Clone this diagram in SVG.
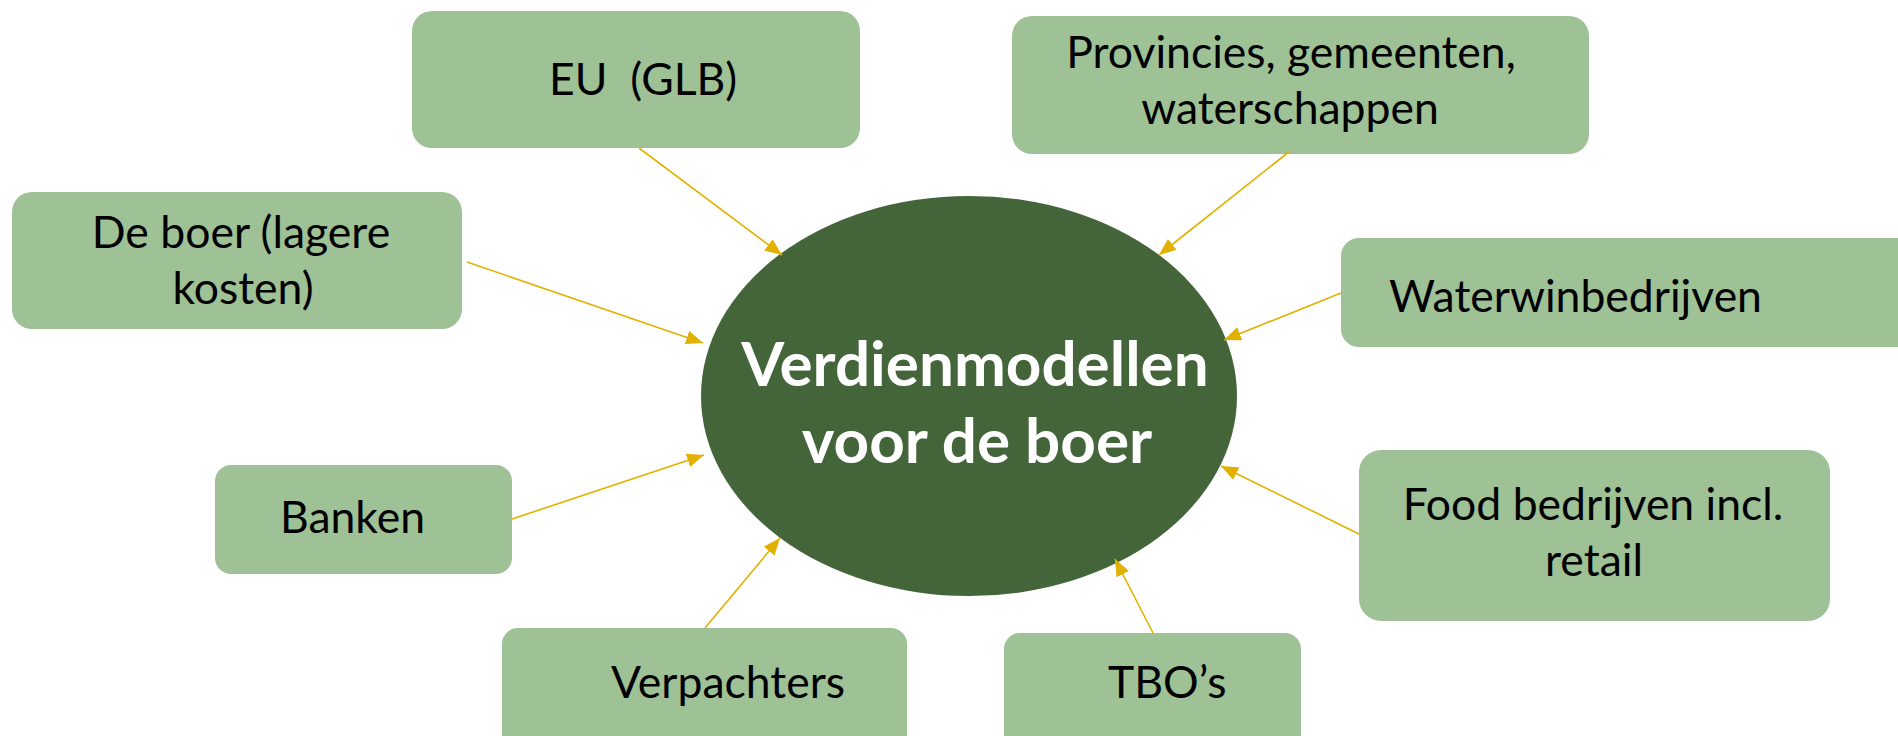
<svg xmlns="http://www.w3.org/2000/svg" width="1898" height="736" viewBox="0 0 1898 736">
<defs>
<style>
.box{fill:#9FC196;}
.lbl{font-family:Lato,"Open Sans","Liberation Sans",sans-serif;font-size:44.5px;fill:#000;}
.ctr{font-family:Lato,"Open Sans","Liberation Sans",sans-serif;font-size:62px;font-weight:bold;fill:#fff;text-anchor:middle;}
.mid{text-anchor:middle;}
.con line{stroke:#E2B100;stroke-width:1.6;marker-end:url(#ah);}
</style>
<marker id="ah" markerUnits="userSpaceOnUse" markerWidth="18" markerHeight="14" refX="17" refY="7" orient="auto">
<path d="M0,0 L17,7 L0,14 z" fill="#E2B100"/>
</marker>
</defs>
<rect width="1898" height="736" fill="#fff"/>
<g id="center">
<ellipse cx="969" cy="396" rx="268" ry="200" fill="#44643A"/>
<text class="ctr" x="975" y="386">Verdienmodellen</text>
<text class="ctr" x="977" y="463">voor de boer</text>
</g>
<g id="eu"><rect class="box" x="412" y="11" width="448" height="137" rx="20"/><text class="lbl" x="549" y="95" xml:space="preserve">EU  (GLB)</text></g>
<g id="deboer"><rect class="box" x="12" y="192" width="450" height="137" rx="20"/><text class="lbl mid" x="241" y="248">De boer (lagere</text><text class="lbl mid" x="243" y="304">kosten)</text></g>
<g id="provincies"><rect class="box" x="1012" y="16" width="577" height="138" rx="20"/><text class="lbl mid" x="1291" y="68">Provincies, gemeenten,</text><text class="lbl mid" x="1290" y="124">waterschappen</text></g>
<g id="waterwin"><rect class="box" x="1341" y="238" width="580" height="109" rx="18"/><text class="lbl" x="1389" y="312">Waterwinbedrijven</text></g>
<g id="banken"><rect class="box" x="215" y="465" width="297" height="109" rx="16"/><text class="lbl" x="280" y="533">Banken</text></g>
<g id="food"><rect class="box" x="1359" y="450" width="471" height="171" rx="22"/><text class="lbl mid" x="1593" y="520">Food bedrijven incl.</text><text class="lbl mid" x="1594" y="576">retail</text></g>
<g id="verpachters"><rect class="box" x="502" y="628" width="405" height="130" rx="16"/><text class="lbl" x="611" y="698">Verpachters</text></g>
<g id="tbo"><rect class="box" x="1004" y="633" width="297" height="125" rx="16"/><text class="lbl" x="1108" y="698">TBO’s</text></g>
<g id="connectors" class="con">
<line x1="639" y1="148" x2="782" y2="255"/>
<line x1="467" y1="262" x2="703" y2="343"/>
<line x1="1290" y1="151" x2="1159" y2="255"/>
<line x1="1341" y1="293" x2="1224" y2="340"/>
<line x1="512" y1="519" x2="704" y2="455"/>
<line x1="705" y1="628" x2="780" y2="538"/>
<line x1="1153" y1="633" x2="1115" y2="559"/>
<line x1="1359" y1="534" x2="1221" y2="466"/>
</g>
</svg>
